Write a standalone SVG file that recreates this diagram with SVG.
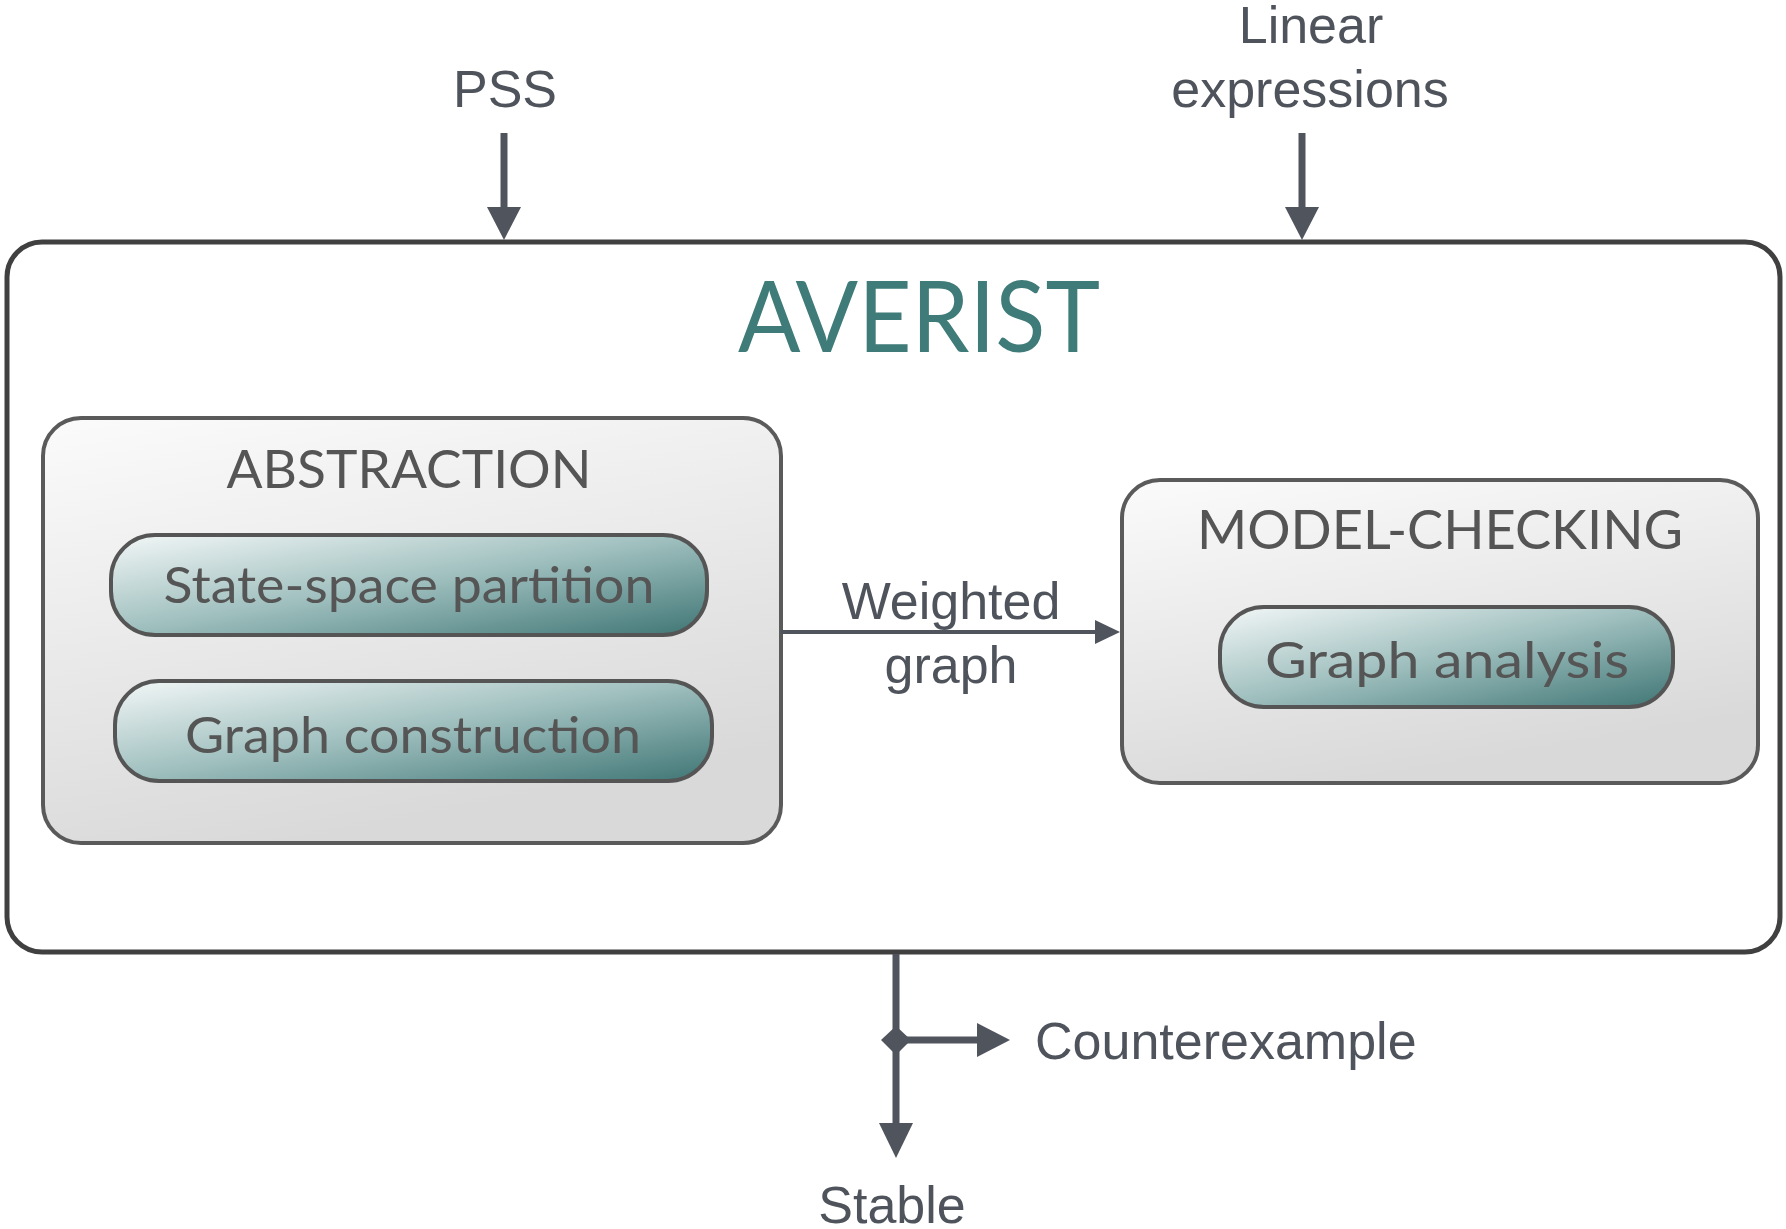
<svg xmlns="http://www.w3.org/2000/svg" width="1786" height="1229" viewBox="0 0 1786 1229">
<defs>
<linearGradient id="gBox" x1="0" y1="0" x2="0.35" y2="1">
<stop offset="0" stop-color="#fbfbfb"/>
<stop offset="1" stop-color="#d9d9d9"/>
</linearGradient>
<linearGradient id="gPill" x1="0" y1="0" x2="1" y2="1">
<stop offset="0" stop-color="#f3f7f7"/>
<stop offset="0.5" stop-color="#9dbebd"/>
<stop offset="1" stop-color="#3f7675"/>
</linearGradient>
<marker id="ah" markerWidth="10" markerHeight="10" refX="10" refY="5" orient="auto" markerUnits="userSpaceOnUse" viewBox="0 0 10 10">
<path d="M0,0 L10,5 L0,10 Z" fill="#50555d"/>
</marker>
<style>
.lbl{font-family:"Liberation Sans",Arial,sans-serif;font-size:52px;fill:#4f545c;text-anchor:middle}
.fut{font-family:Lato,"Open Sans",sans-serif;text-anchor:middle;fill:#555555}
.box{fill:url(#gBox);stroke:#5a5a5a;stroke-width:4}
.pill{fill:url(#gPill);stroke:#555555;stroke-width:4}
.conn{stroke:#50555d;fill:none}
</style>
</defs>

<g id="averist">
<rect x="7" y="242" width="1773" height="710" rx="35" ry="35" fill="#ffffff" stroke="#404040" stroke-width="5"/>
<text x="919" y="352" class="fut" style="font-size:98px;fill:#3f7b78" textLength="362" lengthAdjust="spacingAndGlyphs">AVERIST</text>
</g>

<g id="abstraction">
<rect x="43" y="418" width="738" height="425" rx="38" ry="38" class="box"/>
<text x="409" y="488" class="fut" style="font-size:53px" textLength="365" lengthAdjust="spacingAndGlyphs">ABSTRACTION</text>
</g>

<g id="state-space-partition">
<rect x="111" y="535" width="596" height="100" rx="44" ry="44" class="pill"/>
<text x="409" y="603" class="fut" style="font-size:50px" textLength="491" lengthAdjust="spacingAndGlyphs">State-space partition</text>
</g>

<g id="graph-construction">
<rect x="115" y="681" width="597" height="100" rx="44" ry="44" class="pill"/>
<text x="413" y="753" class="fut" style="font-size:50px" textLength="456" lengthAdjust="spacingAndGlyphs">Graph construction</text>
</g>

<g id="model-checking">
<rect x="1122" y="480" width="636" height="303" rx="38" ry="38" class="box"/>
<text x="1440" y="549" class="fut" style="font-size:55px" textLength="486" lengthAdjust="spacingAndGlyphs">MODEL-CHECKING</text>
</g>

<g id="graph-analysis">
<rect x="1220" y="607" width="453" height="100" rx="44" ry="44" class="pill"/>
<text x="1447" y="678" class="fut" style="font-size:50px" textLength="364" lengthAdjust="spacingAndGlyphs">Graph analysis</text>
</g>

<g id="labels">
<text x="505" y="107" class="lbl">PSS</text>
<text x="1311" y="43" class="lbl">Linear</text>
<text x="1310" y="107" class="lbl">expressions</text>
<text x="951" y="619" class="lbl">Weighted</text>
<text x="951" y="683" class="lbl">graph</text>
<text x="1035" y="1059" class="lbl" style="text-anchor:start">Counterexample</text>
<text x="892" y="1223" class="lbl">Stable</text>
</g>

<g id="connectors">
<line x1="504" y1="133" x2="504" y2="210" class="conn" stroke-width="7"/>
<path d="M487,207 L521,207 L504,240 Z" fill="#50555d"/>
<line x1="1302" y1="133" x2="1302" y2="210" class="conn" stroke-width="7"/>
<path d="M1285,207 L1319,207 L1302,240 Z" fill="#50555d"/>
<line x1="781" y1="632" x2="1098" y2="632" class="conn" stroke-width="4"/>
<path d="M1095,620 L1120,632 L1095,644 Z" fill="#50555d"/>
<line x1="896" y1="954" x2="896" y2="1126" class="conn" stroke-width="7"/>
<path d="M879,1123 L913,1123 L896,1158 Z" fill="#50555d"/>
<path d="M881,1040 L896,1026 L911,1040 L896,1055 Z" fill="#50555d"/>
<line x1="896" y1="1040" x2="980" y2="1040" class="conn" stroke-width="7"/>
<path d="M977,1023 L1010,1040 L977,1057 Z" fill="#50555d"/>
</g>
</svg>
